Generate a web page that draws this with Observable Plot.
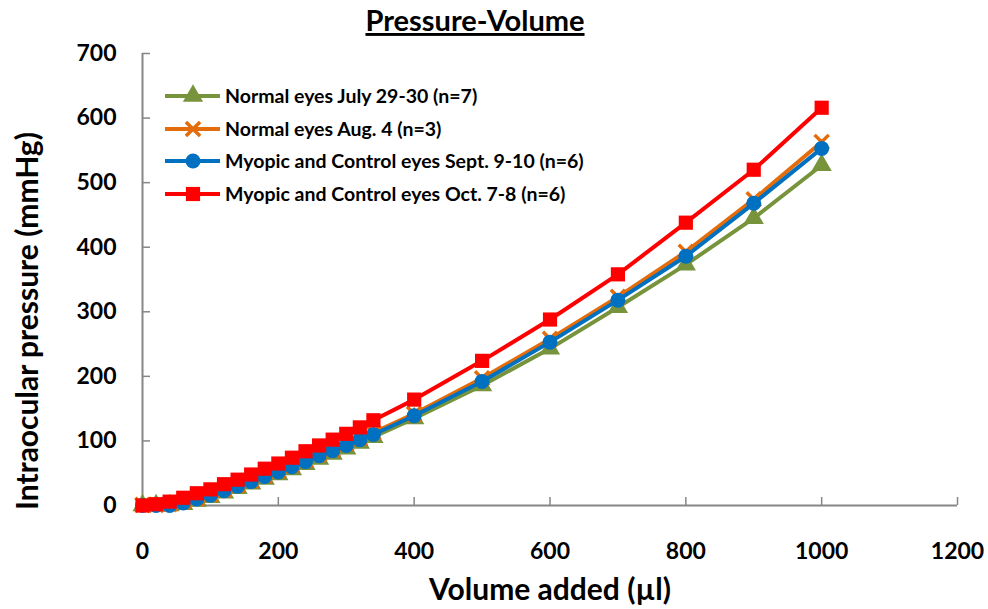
<!DOCTYPE html>
<html>
<head>
<meta charset="utf-8">
<script src="https://cdn.jsdelivr.net/npm/d3@7"></script>
<script src="https://cdn.jsdelivr.net/npm/@observablehq/plot@0.6"></script>
<style>
  html, body { margin: 0; padding: 0; background: #fff; }
  #chart svg { display: block; }
</style>
</head>
<body>
<div id="chart"></div>
<script>
// ---- data ----
const volume = [0, 20, 40, 60, 80, 100, 120, 140, 160, 180, 200, 220, 240, 260, 280, 300, 320, 340, 400, 500, 600, 700, 800, 900, 1000];
const normalJuly = [0, 0, 0, 2, 7, 13, 20, 27, 34, 41, 48, 56, 64, 72, 80, 88, 97, 106, 135, 186, 243, 307, 373, 445, 527];
const normalAug = [1, 1, 2, 6, 11, 17, 24, 31, 38, 46, 54, 62, 70, 79, 87, 96, 104, 113, 142, 197, 258, 323, 393, 474, 563];
const myopicSept = [0, 0, 0, 4, 10, 16, 23, 30, 37, 45, 52, 60, 68, 77, 85, 93, 102, 110, 139, 192, 253, 318, 386, 468, 553];
const myopicOct = [0, 2, 6, 12, 19, 25, 33, 40, 48, 57, 65, 74, 84, 93, 102, 111, 121, 132, 164, 224, 288, 358, 438, 520, 616];

const seriesNames = [
  "Normal eyes July 29-30 (n=7)",
  "Normal eyes Aug. 4 (n=3)",
  "Myopic and Control eyes Sept. 9-10 (n=6)",
  "Myopic and Control eyes Oct. 7-8 (n=6)"
];
const seriesValues = [normalJuly, normalAug, myopicSept, myopicOct];
const seriesColors = ["#77933C", "#E46C0A", "#0070C0", "#FF0000"];
const seriesSymbols = ["triangle", "times", "circle", "square"];

const xTicks = [0, 200, 400, 600, 800, 1000, 1200];
const yTicks = [0, 100, 200, 300, 400, 500, 600, 700];

const titleText = "Pressure-Volume";
const xLabel = "Volume added (\u00b5l)";
const yLabel = "Intraocular pressure (mmHg)";

// ---- build table ----
const rows = [];
seriesNames.forEach((name, i) => {
  volume.forEach((v, j) => rows.push({series: name, idx: i, volume: v, pressure: seriesValues[i][j]}));
});

const FONT = "Lato, 'Open Sans', sans-serif";
const axisColor = "#868686";
const fmt = d3.format("d");

const marks = [
  Plot.ruleY([0], {stroke: axisColor, strokeWidth: 2}),
  Plot.ruleX([0], {stroke: axisColor, strokeWidth: 2}),
  Plot.axisX({ticks: xTicks, tickSize: -8, tickFormat: () => "", stroke: axisColor, strokeWidth: 1.5, label: null}),
  Plot.axisY({ticks: yTicks, tickSize: -8, tickFormat: () => "", stroke: axisColor, strokeWidth: 1.5, label: null}),
  Plot.axisX({ticks: xTicks, tickSize: 0, tickPadding: 37, tickFormat: fmt, fontSize: 23, fontWeight: "bold", fill: "#000", label: null}),
  Plot.axisY({ticks: yTicks, tickSize: 0, tickPadding: 26, tickFormat: fmt, fontSize: 23, fontWeight: "bold", fill: "#000", label: null})
];

seriesNames.forEach((name, i) => {
  const data = rows.filter(d => d.idx === i);
  marks.push(Plot.line(data, {x: "volume", y: "pressure", stroke: seriesColors[i], strokeWidth: 4}));
  const sym = seriesSymbols[i];
  if (sym === "times") {
    marks.push(Plot.dot(data, {x: "volume", y: "pressure", symbol: sym, r: 6.5, stroke: seriesColors[i], strokeWidth: 3.5, fill: "none"}));
  } else {
    marks.push(Plot.dot(data, {x: "volume", y: "pressure", symbol: sym, r: sym === "circle" ? 7.5 : (sym === "square" ? 8 : 7.5), fill: seriesColors[i], stroke: "none"}));
  }
});

const chart = Plot.plot({
  width: 988,
  height: 609,
  marginLeft: 142,
  marginRight: 31,
  marginTop: 53,
  marginBottom: 104,
  style: {fontFamily: FONT, background: "#fff", overflow: "visible"},
  x: {domain: [0, 1200]},
  y: {domain: [0, 700]},
  marks
});

document.getElementById("chart").appendChild(chart);

// ---- titles and legend ----
const svg = d3.select(chart);
svg.append("text")
  .attr("x", 475).attr("y", 31)
  .attr("text-anchor", "middle")
  .style("font-family", FONT).style("font-weight", "bold").style("font-size", "29px")
  .style("text-decoration", "underline")
  .attr("fill", "#000")
  .text(titleText);

svg.append("text")
  .attr("x", 550).attr("y", 600)
  .attr("text-anchor", "middle")
  .style("font-family", FONT).style("font-weight", "bold").style("font-size", "30px")
  .attr("fill", "#000")
  .text(xLabel);

svg.append("text")
  .attr("transform", "translate(38,321) rotate(-90)")
  .attr("text-anchor", "middle")
  .style("font-family", FONT).style("font-weight", "bold").style("font-size", "30px")
  .attr("fill", "#000")
  .text(yLabel);

const legendRowY = [96, 129, 161, 194];
const lg = svg.append("g");
const symMap = {triangle: d3.symbolTriangle, times: d3.symbolTimes, circle: d3.symbolCircle, square: d3.symbolSquare};
seriesNames.forEach((name, i) => {
  const y = legendRowY[i];
  const g = lg.append("g").attr("transform", `translate(0,${y})`);
  g.append("line").attr("x1", 165).attr("x2", 220).attr("y1", 0).attr("y2", 0)
    .attr("stroke", seriesColors[i]).attr("stroke-width", 4);
  const r = seriesSymbols[i] === "times" ? 6.5 : (seriesSymbols[i] === "square" ? 8 : 7.5);
  const p = g.append("path").attr("transform", "translate(193,0)")
    .attr("d", d3.symbol(symMap[seriesSymbols[i]], Math.PI * r * r)());
  if (seriesSymbols[i] === "times") p.attr("fill", "none").attr("stroke", seriesColors[i]).attr("stroke-width", 3.5);
  else p.attr("fill", seriesColors[i]);
  g.append("text").attr("x", 225).attr("y", 0).attr("dy", "0.35em")
    .attr("text-anchor", "start")
    .style("font-family", FONT).style("font-weight", "bold").style("font-size", "19.5px")
    .attr("fill", "#000")
    .text(name);
});
</script>
</body>
</html>
